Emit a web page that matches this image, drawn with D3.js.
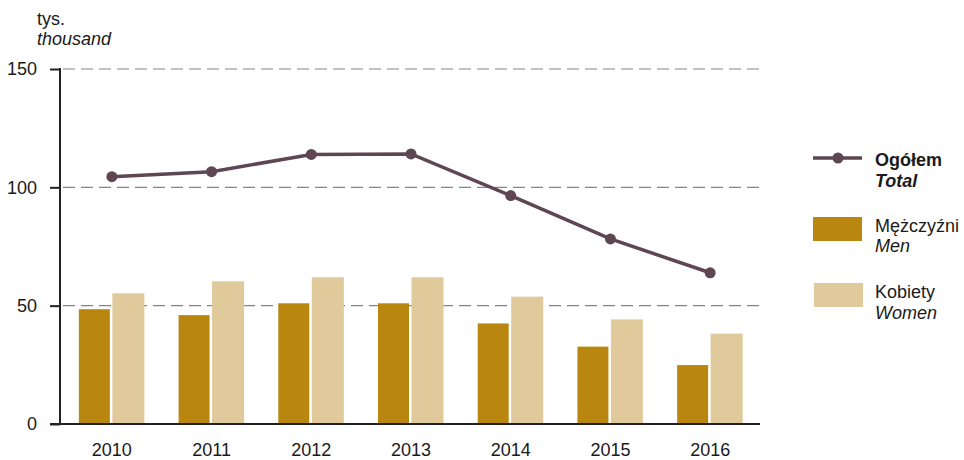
<!DOCTYPE html>
<html><head><meta charset="utf-8">
<script src="https://cdn.jsdelivr.net/npm/d3@7"></script>
<style>body{margin:0;background:#fff}svg{display:block;font-family:"Liberation Sans",Arial,sans-serif}</style>
</head><body>
<svg id="c" width="964" height="460"></svg>
<script>
const years = ["2010","2011","2012","2013","2014","2015","2016"];
const men = [48.5, 46.0, 51.0, 51.0, 42.5, 32.7, 24.9];
const women = [55.2, 60.3, 62.0, 62.0, 53.8, 44.2, 38.2];
const total = [104.5, 106.6, 113.9, 114.1, 96.5, 78.2, 63.9];
const yTicks = [0, 50, 100, 150];

const colMen = "#b9870f", colWomen = "#e0c99a", colLine = "#5e4652";
const svg = d3.select("#c");
const x = d3.scaleBand().domain(years).range([62, 760]);
const y = d3.scaleLinear().domain([0, 150]).range([424, 69]);

// gridlines
svg.append("g").selectAll("line").data(yTicks.filter(d => d > 0)).join("line")
  .attr("x1", 63).attr("x2", 760).attr("y1", d => y(d)).attr("y2", d => y(d))
  .attr("stroke", "#858585").attr("stroke-width", 1.2).attr("stroke-dasharray", "12,6");

// bars
const c = d => x(d) + x.bandwidth() / 2;
svg.append("g").selectAll("rect").data(years).join("rect")
  .attr("x", d => c(d) - 33).attr("width", 31)
  .attr("y", (d, i) => y(men[i])).attr("height", (d, i) => y(0) - y(men[i]))
  .attr("fill", colMen);
svg.append("g").selectAll("rect").data(years).join("rect")
  .attr("x", d => c(d) + 0.5).attr("width", 32)
  .attr("y", (d, i) => y(women[i])).attr("height", (d, i) => y(0) - y(women[i]))
  .attr("fill", colWomen);

// axes
const yAxis = d3.axisLeft(y).tickValues(yTicks).tickSize(10).tickPadding(13);
const gy = svg.append("g").attr("transform", "translate(60,0)").call(yAxis);
gy.select(".domain").remove();
gy.selectAll(".tick line").attr("stroke", "#222").attr("stroke-width", 2);
gy.selectAll("text").attr("font-size", 18).attr("fill", "#1a1a1a").attr("font-family", "Liberation Sans, Arial, sans-serif");
svg.append("line").attr("x1", 60).attr("x2", 60).attr("y1", 68).attr("y2", 425).attr("stroke", "#222").attr("stroke-width", 2);

const xAxis = d3.axisBottom(x).tickSize(0).tickPadding(19);
const gx = svg.append("g").attr("transform", "translate(0,424)").call(xAxis);
gx.select(".domain").remove();
gx.selectAll("text").attr("font-size", 18).attr("fill", "#1a1a1a").attr("font-family", "Liberation Sans, Arial, sans-serif");
svg.append("line").attr("x1", 50).attr("x2", 760).attr("y1", 424).attr("y2", 424).attr("stroke", "#222").attr("stroke-width", 2);

// line
const line = d3.line().x((d, i) => c(years[i])).y(d => y(d));
svg.append("path").datum(total).attr("d", line).attr("fill", "none")
  .attr("stroke", colLine).attr("stroke-width", 3.5);
svg.append("g").selectAll("circle").data(total).join("circle")
  .attr("cx", (d, i) => c(years[i])).attr("cy", d => y(d)).attr("r", 5.5).attr("fill", colLine);

// unit labels
svg.append("text").attr("x", 37).attr("y", 25).attr("font-size", 18).attr("fill", "#1a1a1a").text("tys.");
svg.append("text").attr("x", 37).attr("y", 45).attr("font-size", 18).attr("font-style", "italic").attr("fill", "#1a1a1a").text("thousand");

// legend
const lg = svg.append("g");
lg.append("line").attr("x1", 813).attr("x2", 862).attr("y1", 158).attr("y2", 158).attr("stroke", colLine).attr("stroke-width", 3.5);
lg.append("circle").attr("cx", 838).attr("cy", 158).attr("r", 5.5).attr("fill", colLine);
lg.append("text").attr("x", 875).attr("y", 166).attr("font-size", 18).attr("font-weight", "bold").attr("fill", "#1a1a1a").text("Ogółem");
lg.append("text").attr("x", 875).attr("y", 187).attr("font-size", 18).attr("font-weight", "bold").attr("font-style", "italic").attr("fill", "#1a1a1a").text("Total");
lg.append("rect").attr("x", 813).attr("y", 217).attr("width", 49).attr("height", 24).attr("fill", colMen);
lg.append("text").attr("x", 875).attr("y", 232).attr("font-size", 18).attr("fill", "#1a1a1a").text("Mężczyźni");
lg.append("text").attr("x", 875).attr("y", 252).attr("font-size", 18).attr("font-style", "italic").attr("fill", "#1a1a1a").text("Men");
lg.append("rect").attr("x", 814).attr("y", 283).attr("width", 49).attr("height", 24).attr("fill", colWomen);
lg.append("text").attr("x", 875).attr("y", 298).attr("font-size", 18).attr("fill", "#1a1a1a").text("Kobiety");
lg.append("text").attr("x", 875).attr("y", 319).attr("font-size", 18).attr("font-style", "italic").attr("fill", "#1a1a1a").text("Women");
</script>
</body></html>
